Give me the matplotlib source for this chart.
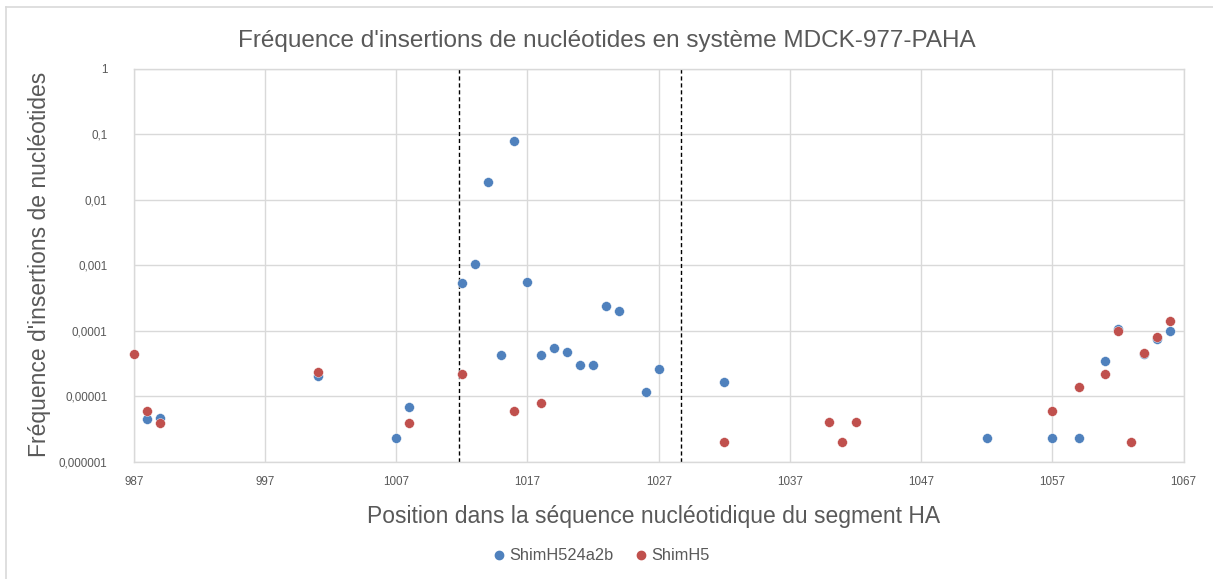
import matplotlib
matplotlib.use("Agg")
import matplotlib.pyplot as plt
from matplotlib.lines import Line2D
import numpy as np

plt.rcParams['font.family'] = ['Liberation Sans', 'DejaVu Sans']

# Data
blue_x = [988, 989, 1001, 1007, 1008, 1012, 1013, 1014, 1015, 1016, 1017, 1018, 1019,
          1020, 1021, 1022, 1023, 1024, 1026, 1027, 1032, 1052, 1057, 1059, 1061, 1062,
          1064, 1065, 1066]
blue_y = [4.5e-6, 4.6e-6, 2.05e-5, 2.3e-6, 6.9e-6, 5.4e-4, 1.05e-3, 1.86e-2, 4.3e-5,
          7.8e-2, 5.5e-4, 4.3e-5, 5.5e-5, 4.8e-5, 3.0e-5, 3.0e-5, 2.4e-4, 2.0e-4,
          1.16e-5, 2.56e-5, 1.62e-5, 2.3e-6, 2.3e-6, 2.3e-6, 3.5e-5, 1.06e-4, 4.4e-5,
          7.4e-5, 1.0e-4]
red_x = [987, 988, 989, 1001, 1008, 1012, 1016, 1018, 1032, 1040, 1041, 1042, 1057,
         1059, 1061, 1062, 1063, 1064, 1065, 1066]
red_y = [4.4e-5, 5.9e-6, 3.9e-6, 2.35e-5, 3.9e-6, 2.2e-5, 5.9e-6, 7.9e-6, 2.0e-6,
         4.0e-6, 2.0e-6, 4.0e-6, 5.9e-6, 1.4e-5, 2.2e-5, 9.8e-5, 2.0e-6, 4.5e-5,
         7.9e-5, 1.4e-4]
series_names = ['ShimH524a2b', 'ShimH5']
x_ticks = list(range(987, 1068, 10))
y_ticks = [1e-6, 1e-5, 1e-4, 1e-3, 1e-2, 1e-1, 1]
y_tick_labels = ['0,000001', '0,00001', '0,0001', '0,001', '0,01', '0,1', '1']
dashed_x = [1011.8, 1028.7]

BLUE = '#4F81BD'
RED = '#C0504D'
GRID = '#D9D9D9'
TXT = '#595959'

W, H = 1213, 579
fig = plt.figure(figsize=(W / 100, H / 100), dpi=100)
ax = fig.add_axes([133.8 / W, 1 - 461.7 / H, (1183.6 - 133.8) / W, (461.7 - 68.5) / H])

ax.set_yscale('log')
ax.set_xlim(987, 1067)
ax.set_ylim(1e-6, 1)
ax.set_xticks(x_ticks)
ax.set_xticklabels([str(t) for t in x_ticks])
ax.set_yticks(y_ticks)
ax.set_yticklabels(y_tick_labels)
ax.yaxis.set_minor_locator(matplotlib.ticker.NullLocator())
ax.tick_params(length=0, labelsize=8.4, labelcolor=TXT)
ax.tick_params(axis='y', pad=19)
ax.tick_params(axis='x', pad=10)
ax.grid(True, color=GRID, linewidth=1)
ax.set_axisbelow(True)
for s in ax.spines.values():
    s.set_color(GRID)
    s.set_linewidth(1)

for xv in dashed_x:
    ax.axvline(xv, color='black', linestyle=(0, (3, 2)), linewidth=1, zorder=2)

ax.scatter(blue_x, blue_y, s=50, color=BLUE, edgecolors='white', linewidths=0.3, zorder=3, clip_on=False)
ax.scatter(red_x, red_y, s=50, color=RED, edgecolors='white', linewidths=0.3, zorder=4, clip_on=False)

fig.text(607 / W, 1 - 41 / H, "Fréquence d'insertions de nucléotides en système MDCK-977-PAHA",
         ha='center', va='center', fontsize=17.5, color=TXT)
fig.text(654 / W, 1 - 516 / H, "Position dans la séquence nucléotidique du segment HA",
         ha='center', va='center', fontsize=16.5, color=TXT)
fig.text(40 / W, 1 - 264 / H, "Fréquence d'insertions de nucléotides",
         ha='center', va='center', fontsize=16.5, color=TXT, rotation=90)

handles = [Line2D([], [], marker='o', linestyle='none', color=BLUE, markersize=6),
           Line2D([], [], marker='o', linestyle='none', color=RED, markersize=6)]
leg = fig.legend(handles, series_names, loc='center', bbox_to_anchor=(600 / W, 1 - 556 / H),
                 ncol=2, frameon=False, fontsize=11.8, handletextpad=0.1, columnspacing=1.2,
                 handlelength=1.0, labelcolor=TXT)

# chart area border (top and left)
fig.add_artist(Line2D([6 / W, 1], [1 - 7 / H, 1 - 7 / H], color=GRID, linewidth=1.2, transform=fig.transFigure))
fig.add_artist(Line2D([6 / W, 6 / W], [0, 1 - 7 / H], color=GRID, linewidth=1.2, transform=fig.transFigure))

fig.savefig('out.png', dpi=100)
